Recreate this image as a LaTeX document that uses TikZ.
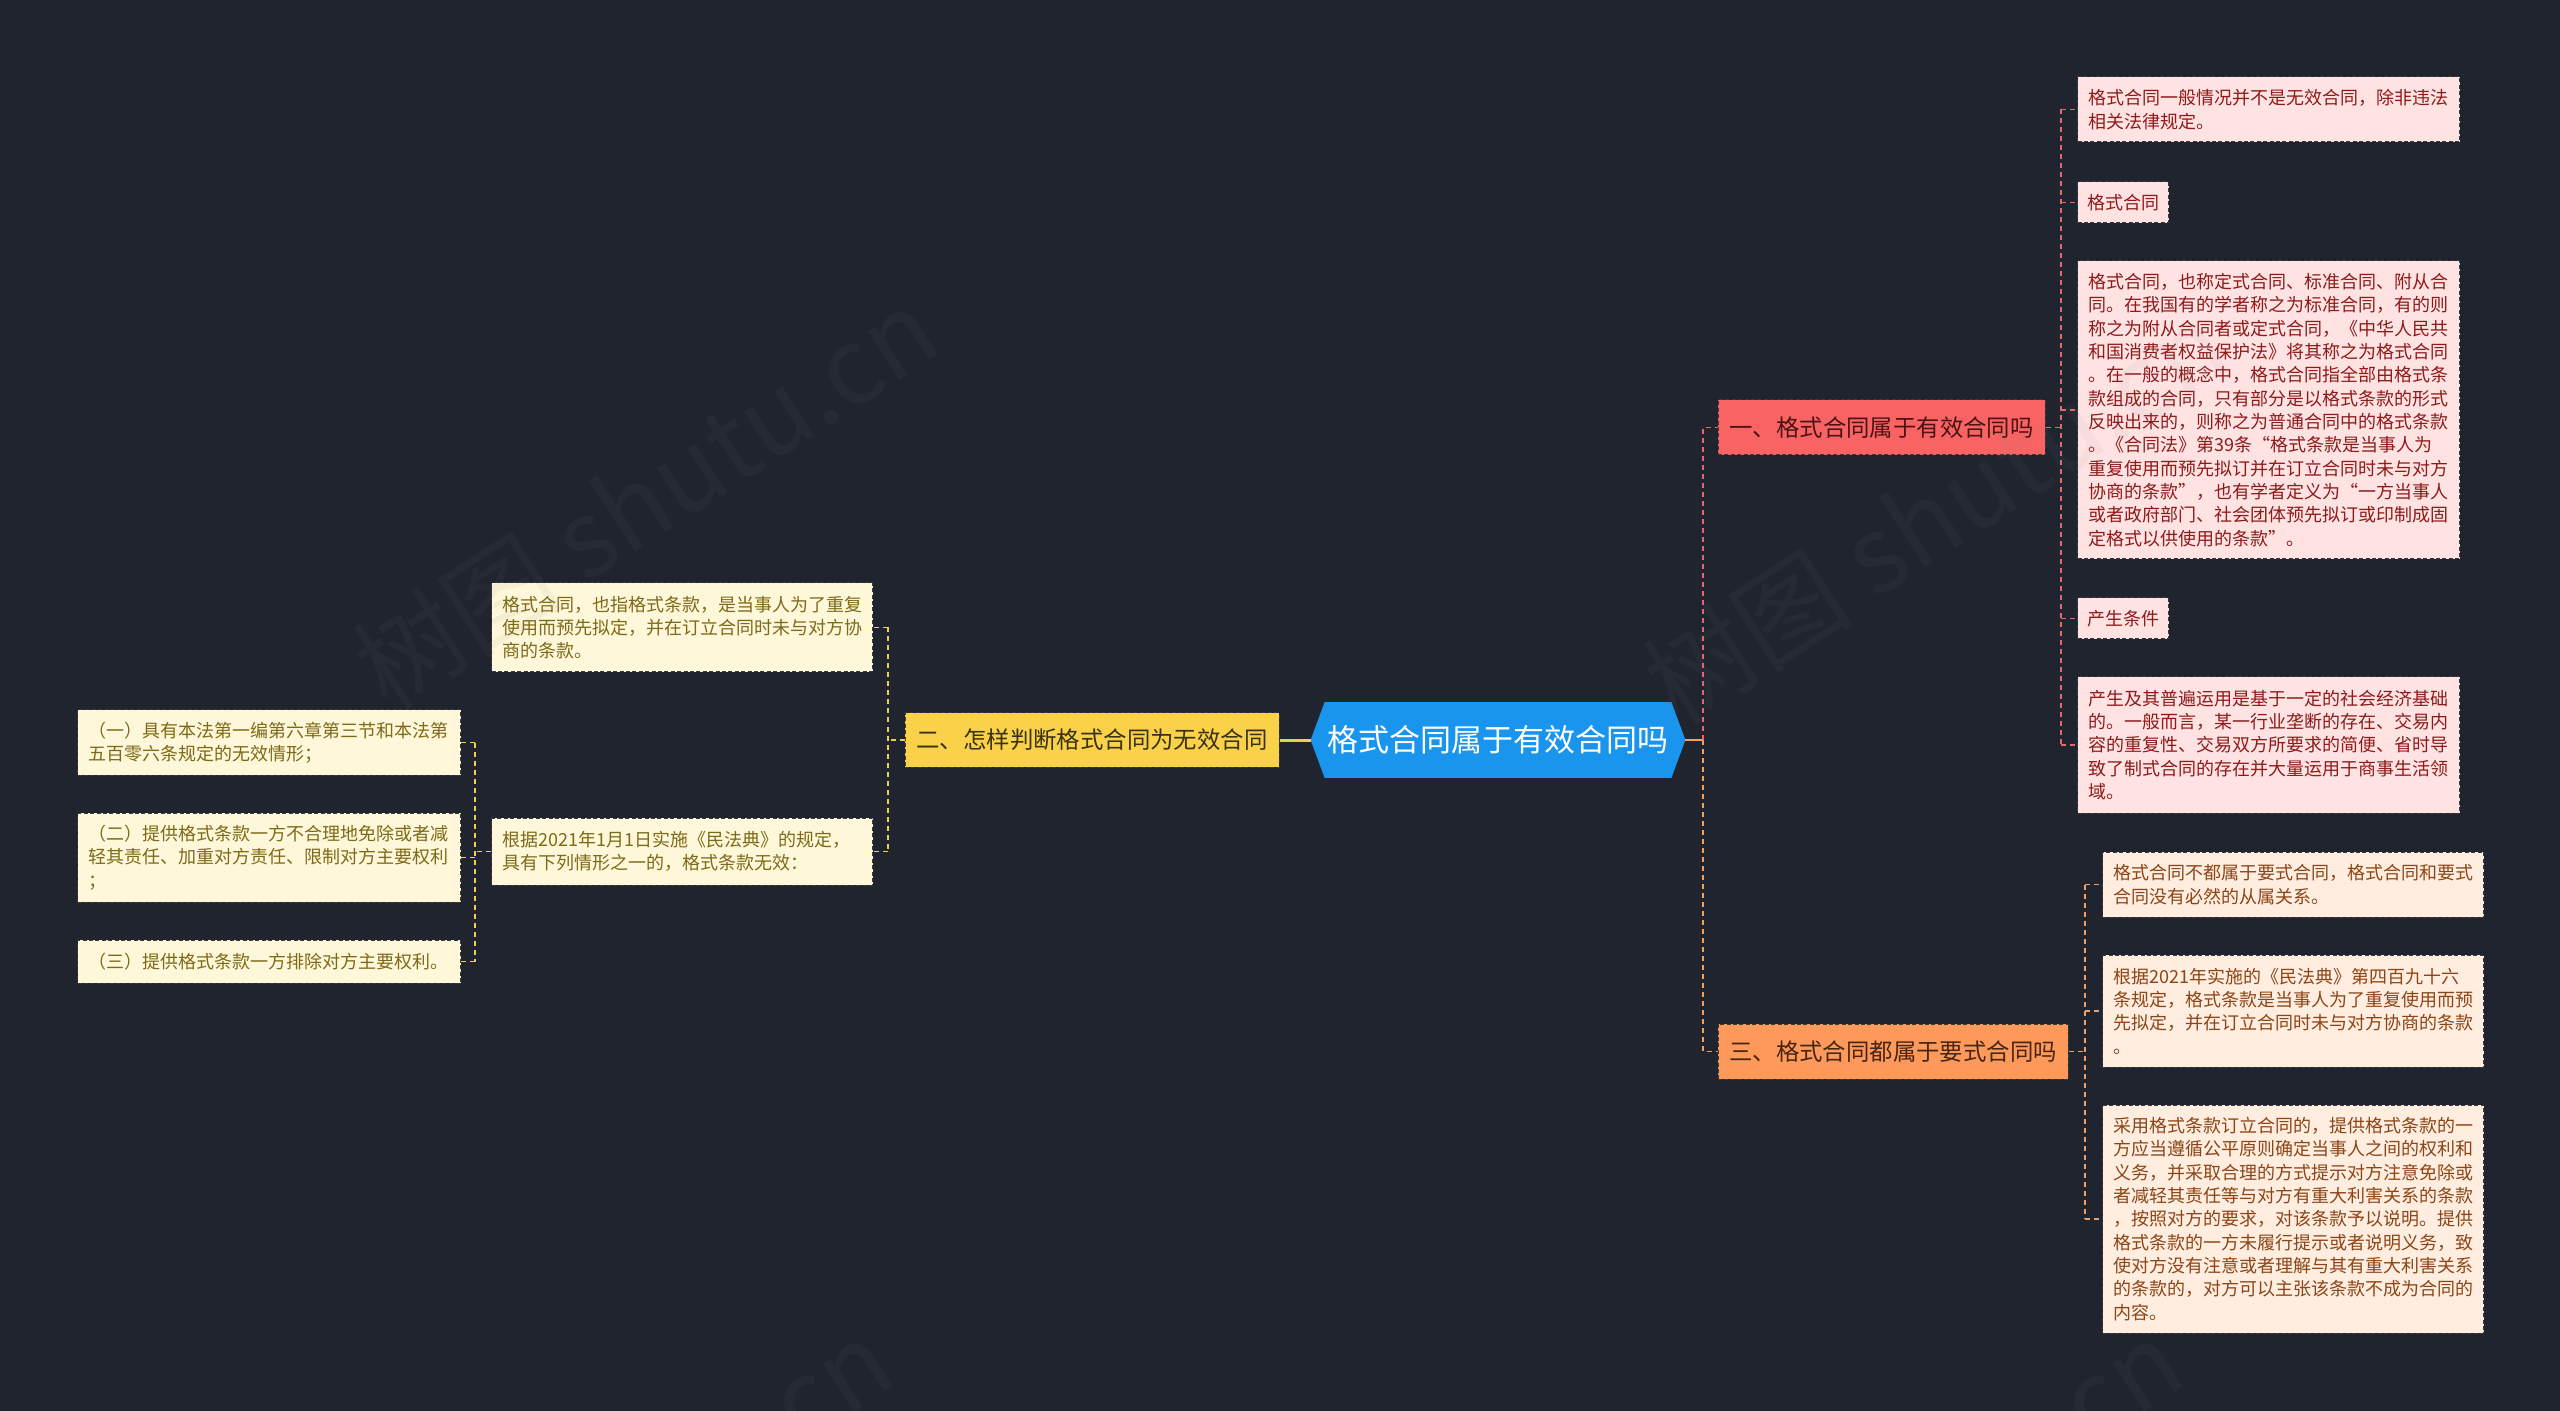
\documentclass[tikz,border=0pt]{standalone}
\usepackage{fontspec}
\setmainfont{Noto Sans CJK SC}
\usetikzlibrary{backgrounds}
\definecolor{bg}{HTML}{20242F}
\definecolor{centerblue}{HTML}{1A95EE}
\definecolor{redfill}{HTML}{F96363}
\definecolor{redtext}{HTML}{4A1414}
\definecolor{orangefill}{HTML}{FD9A5B}
\definecolor{orangetext}{HTML}{4A2412}
\definecolor{yellowfill}{HTML}{F9D24A}
\definecolor{yellowtext}{HTML}{3A3212}
\definecolor{pinkfill}{HTML}{FFE3E3}
\definecolor{pinktext}{HTML}{8E1A1A}
\definecolor{peachfill}{HTML}{FFEDE0}
\definecolor{peachtext}{HTML}{8C4516}
\definecolor{creamfill}{HTML}{FFF7DA}
\definecolor{creamtext}{HTML}{7D6A17}
\definecolor{boxborder}{HTML}{3A3A3A}
\definecolor{redline}{HTML}{E46A6A}
\definecolor{orangeline}{HTML}{F0A060}
\definecolor{yellowline}{HTML}{EFCF50}
\tikzset{
  leafbox/.style={draw=boxborder, dashed, dash pattern=on 2pt off 1.2pt, line width=0.5pt,
    inner xsep=5.5pt, inner ysep=0pt, font=\fontsize{9}{11.67}\selectfont, align=left, anchor=west},
  pinkbox/.style={leafbox, fill=pinkfill, text=pinktext},
  peachbox/.style={leafbox, fill=peachfill, text=peachtext},
  creambox/.style={leafbox, fill=creamfill, text=creamtext},
  branchbox/.style={draw=boxborder, dashed, dash pattern=on 2pt off 1.2pt, line width=0.5pt,
    minimum height=27.5pt, inner sep=0pt, font=\fontsize{11.7}{14}\selectfont},
  reddash/.style={draw=redline, dash pattern=on 2.5pt off 2pt, line width=0.9pt},
  orangedash/.style={draw=orangeline, dash pattern=on 2.5pt off 2pt, line width=0.9pt},
  yellowdash/.style={draw=yellowline, dash pattern=on 2.5pt off 2pt, line width=0.9pt},
  wmark/.style={rotate=33, text=gray, opacity=0.07, font=\fontsize{53}{60}\selectfont},
}
\begin{document}
\begin{tikzpicture}[x=0.5pt, y=-0.5pt]
\clip (0,0) rectangle (2560,1411);
\begin{scope}[on background layer]
  \fill[bg] (0,0) rectangle (2560,1411);
\end{scope}

% centre
\node[font=\fontsize{15.5}{18}\selectfont, text=white, minimum width=187pt, minimum height=37.5pt, inner sep=0pt] (c) at (1498,740) {格式合同属于有效合同吗};
\begin{scope}[on background layer]
  \fill[centerblue] (c.west) -- ([xshift=7pt]c.north west) -- ([xshift=-7pt]c.north east) -- (c.east)
    -- ([xshift=-7pt]c.south east) -- ([xshift=7pt]c.south west) -- cycle;
\end{scope}

% branches
\node[branchbox, fill=redfill, text=redtext, minimum width=163.5pt] (b1) at (1881.5,427.5) {一、格式合同属于有效合同吗};
\node[branchbox, fill=yellowfill, text=yellowtext, minimum width=187pt, minimum height=27pt] (b2) at (1092,740) {二、怎样判断格式合同为无效合同};
\node[branchbox, fill=orangefill, text=orangetext, minimum width=175pt] (b3) at (1893,1051.5) {三、格式合同都属于要式合同吗};

% branch 1 leaves
\node[pinkbox, text width=180pt, minimum height=32.5pt] (l1) at (2077,109.5) {格式合同一般情况并不是无效合同，除非违法\\相关法律规定。};
\node[pinkbox, inner xsep=4.75pt, minimum height=20.5pt] (l2) at (2077,202.5) {格式合同};
\node[pinkbox, text width=180pt, minimum height=149pt] (l3) at (2077,410) {格式合同，也称定式合同、标准合同、附从合\\同。在我国有的学者称之为标准合同，有的则\\称之为附从合同者或定式合同，《中华人民共\\和国消费者权益保护法》将其称之为格式合同\\。在一般的概念中，格式合同指全部由格式条\\款组成的合同，只有部分是以格式条款的形式\\反映出来的，则称之为普通合同中的格式条款\\。《合同法》第39条“格式条款是当事人为\\重复使用而预先拟订并在订立合同时未与对方\\协商的条款”，也有学者定义为“一方当事人\\或者政府部门、社会团体预先拟订或印制成固\\定格式以供使用的条款”。};
\node[pinkbox, inner xsep=4.75pt, minimum height=20.5pt] (l4) at (2077,618.5) {产生条件};
\node[pinkbox, text width=180pt, minimum height=68pt] (l5) at (2077,745) {产生及其普遍运用是基于一定的社会经济基础\\的。一般而言，某一行业垄断的存在、交易内\\容的重复性、交易双方所要求的简便、省时导\\致了制式合同的存在并大量运用于商事生活领\\域。};

% branch 3 leaves
\node[peachbox, text width=179.5pt, minimum height=32.5pt] (r1) at (2102,884.5) {格式合同不都属于要式合同，格式合同和要式\\合同没有必然的从属关系。};
\node[peachbox, text width=179.5pt, minimum height=56pt] (r2) at (2102,1011) {根据2021年实施的《民法典》第四百九十六\\条规定，格式条款是当事人为了重复使用而预\\先拟定，并在订立合同时未与对方协商的条款\\。};
\node[peachbox, text width=179.5pt, minimum height=114pt] (r3) at (2102,1219) {采用格式条款订立合同的，提供格式条款的一\\方应当遵循公平原则确定当事人之间的权利和\\义务，并采取合理的方式提示对方注意免除或\\者减轻其责任等与对方有重大利害关系的条款\\，按照对方的要求，对该条款予以说明。提供\\格式条款的一方未履行提示或者说明义务，致\\使对方没有注意或者理解与其有重大利害关系\\的条款的，对方可以主张该条款不成为合同的\\内容。};

% branch 2 leaves
\node[creambox, text width=179.5pt, minimum height=44.5pt] (y1) at (491,627.5) {格式合同，也指格式条款，是当事人为了重复\\使用而预先拟定，并在订立合同时未与对方协\\商的条款。};
\node[creambox, text width=179.5pt, minimum height=33.5pt] (y2) at (491,851.5) {根据2021年1月1日实施《民法典》的规定，\\具有下列情形之一的，格式条款无效：};
\node[creambox, text width=180.5pt, minimum height=32.5pt] (z1) at (77,742.5) {（一）具有本法第一编第六章第三节和本法第\\五百零六条规定的无效情形；};
\node[creambox, text width=180.5pt, minimum height=44.5pt] (z2) at (77,857.5) {（二）提供格式条款一方不合理地免除或者减\\轻其责任、加重对方责任、限制对方主要权利\\；};
\node[creambox, text width=180.5pt, minimum height=21.5pt] (z3) at (77,961.5) {（三）提供格式条款一方排除对方主要权利。};

% connectors: centre
\draw[yellowline, line width=1.5pt] (b2.east) -- (c.west);
\coordinate (t0) at (1703,740);
\draw[orangeline, line width=1.2pt] (c.east) -- (t0);
\draw[reddash] (t0) |- (b1.west);
\draw[orangedash] (t0) |- (b3.west);

% branch 1
\coordinate (t1) at (2061,427.5);
\draw[reddash] (b1.east) -- (t1);
\draw[reddash] (t1 |- l1.west) -- (t1 |- l5.west);
\foreach \n in {l1,l2,l3,l4,l5} \draw[reddash] (t1 |- \n.west) -- (\n.west);

% branch 3
\coordinate (t3) at (2085,1051.5);
\draw[orangedash] (b3.east) -- (t3);
\draw[orangedash] (t3 |- r1.west) -- (t3 |- r3.west);
\foreach \n in {r1,r2,r3} \draw[orangedash] (t3 |- \n.west) -- (\n.west);

% branch 2
\coordinate (t2) at (888,740);
\draw[yellowdash] (b2.west) -- (t2);
\draw[yellowdash] (t2 |- y1.east) -- (t2 |- y2.east);
\foreach \n in {y1,y2} \draw[yellowdash] (t2 |- \n.east) -- (\n.east);

\coordinate (t4) at (475,851.5);
\draw[yellowdash] (y2.west) -- (t4);
\draw[yellowdash] (t4 |- z1.east) -- (t4 |- z3.east);
\foreach \n in {z1,z2,z3} \draw[yellowdash] (t4 |- \n.east) -- (\n.east);

% watermarks
\node[wmark] (wm1) at (645,498) {树图 shutu.cn};
\node[wmark] (wm2) at (1935,514) {树图 shutu.cn};
\node[wmark] (wm3) at (600,1530) {树图 shutu.cn};
\node[wmark] (wm4) at (1890,1530) {树图 shutu.cn};
\end{tikzpicture}
\end{document}
